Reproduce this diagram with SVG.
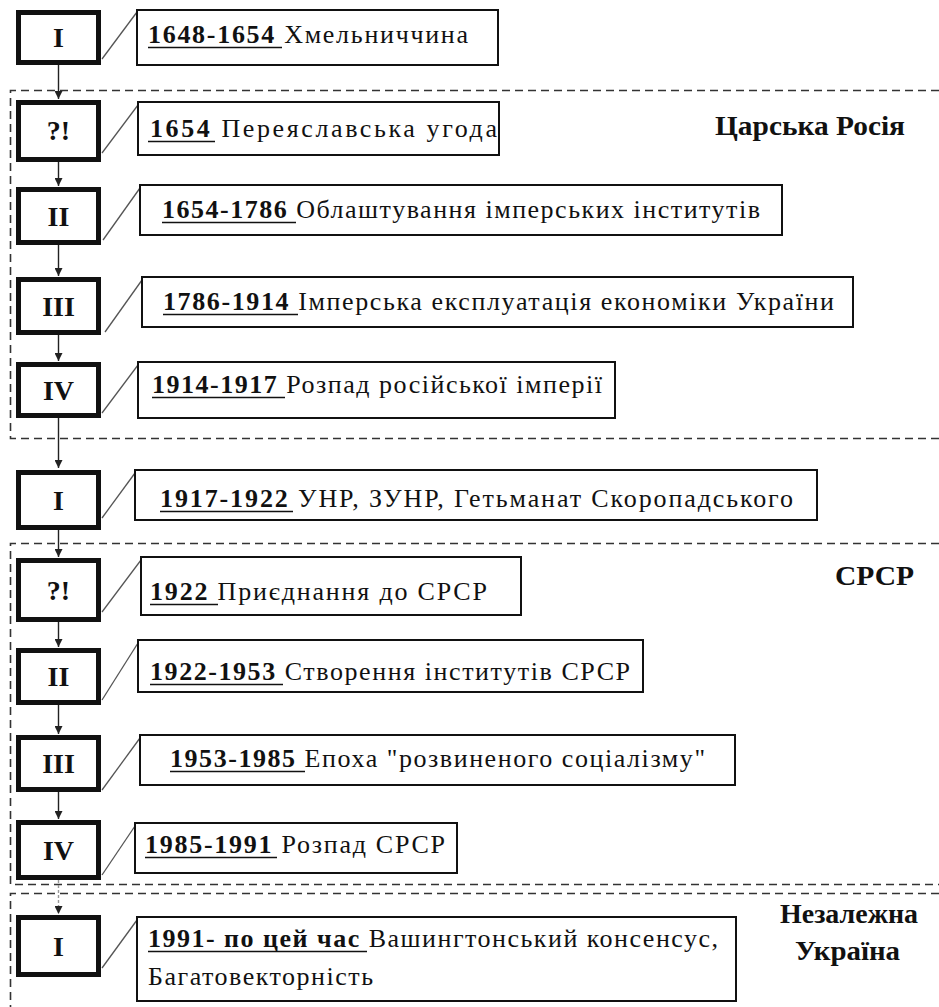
<svg xmlns="http://www.w3.org/2000/svg" width="939" height="1007" viewBox="0 0 939 1007">
<style>
.stage rect{fill:#fff;stroke:#111;stroke-width:5}
.stage text{font-family:"Liberation Serif","Times New Roman",serif;font-weight:bold;font-size:28px;fill:#111;text-anchor:middle}
.ev rect{fill:#fff;stroke:#111;stroke-width:2}
.ev text{font-family:"Liberation Serif","Times New Roman",serif;font-size:26px;fill:#111}
.ev .b{font-weight:bold}
.ev line{stroke:#111;stroke-width:1.4}
.region{fill:none;stroke:#333;stroke-width:1.6;stroke-dasharray:8 5}
.arrow{stroke:#222;stroke-width:1.4;fill:none;marker-end:url(#ah)}
.diag{stroke:#555;stroke-width:1.3;fill:none}
.era{font-family:"Liberation Serif","Times New Roman",serif;font-weight:bold;font-size:27px;fill:#111}
</style>
<defs>
<marker id="ah" viewBox="0 0 10 10" refX="10" refY="5" markerWidth="8" markerHeight="8" markerUnits="userSpaceOnUse" orient="auto">
<path d="M0,0 L10,5 L0,10 z" fill="#222"/>
</marker>
</defs>
<rect width="939" height="1007" fill="#fff"/>
<g id="regions">
<path class="region" d="M939,90.5 H10.5 V438.5 H939"/>
<path class="region" d="M939,543.5 H10.5 V884.5 H939"/>
<path class="region" d="M939,893.5 H10.5 V1007"/>
</g>
<g id="era-labels">
<text class="era" x="715" y="135" textLength="190" lengthAdjust="spacingAndGlyphs">Царська Росія</text>
<text class="era" x="835" y="585" textLength="79" lengthAdjust="spacingAndGlyphs">СРСР</text>
<text class="era" x="780" y="923" textLength="138" lengthAdjust="spacingAndGlyphs">Незалежна</text>
<text class="era" x="795" y="960" textLength="105" lengthAdjust="spacingAndGlyphs">Україна</text>
</g>
<g id="connectors">
<line class="arrow" x1="58.5" y1="65" x2="58.5" y2="99"/>
<line class="arrow" x1="58.5" y1="162" x2="58.5" y2="186"/>
<line class="arrow" x1="58.5" y1="245" x2="58.5" y2="276"/>
<line class="arrow" x1="58.5" y1="335" x2="58.5" y2="361"/>
<line class="arrow" x1="58.5" y1="418" x2="58.5" y2="468"/>
<line class="arrow" x1="58.5" y1="530" x2="58.5" y2="557"/>
<line class="arrow" x1="58.5" y1="622" x2="58.5" y2="647"/>
<line class="arrow" x1="58.5" y1="705" x2="58.5" y2="734"/>
<line class="arrow" x1="58.5" y1="792" x2="58.5" y2="819"/>
<line class="arrow" x1="58.5" y1="880" x2="58.5" y2="914" style="stroke:#999;stroke-dasharray:3 2"/>
<line class="diag" x1="102" y1="59" x2="137" y2="12"/>
<line class="diag" x1="102" y1="153" x2="138" y2="105"/>
<line class="diag" x1="103" y1="240" x2="140" y2="188"/>
<line class="diag" x1="105" y1="332" x2="142" y2="280"/>
<line class="diag" x1="102" y1="413" x2="138" y2="365"/>
<line class="diag" x1="102" y1="518" x2="135" y2="473"/>
<line class="diag" x1="102" y1="612" x2="141" y2="560"/>
<line class="diag" x1="102" y1="700" x2="138" y2="643"/>
<line class="diag" x1="102" y1="790" x2="140" y2="738"/>
<line class="diag" x1="102" y1="875" x2="135" y2="826"/>
<line class="diag" x1="102" y1="968" x2="137" y2="920"/>
</g>
<g id="stage-1" class="stage"><rect x="18.5" y="12.5" width="80" height="50"/><text x="58.5" y="47">I</text></g>
<g id="stage-2" class="stage"><rect x="18.5" y="102.5" width="80" height="57"/><text x="58.5" y="140">?!</text></g>
<g id="stage-3" class="stage"><rect x="18.5" y="189.5" width="80" height="53"/><text x="58.5" y="226">II</text></g>
<g id="stage-4" class="stage"><rect x="18.5" y="279.5" width="80" height="53"/><text x="58.5" y="316">III</text></g>
<g id="stage-5" class="stage"><rect x="18.5" y="364.5" width="80" height="51"/><text x="58.5" y="400">IV</text></g>
<g id="stage-6" class="stage"><rect x="18.5" y="472.5" width="80" height="55"/><text x="58.5" y="510">I</text></g>
<g id="stage-7" class="stage"><rect x="18.5" y="560.5" width="80" height="59"/><text x="58.5" y="600">?!</text></g>
<g id="stage-8" class="stage"><rect x="18.5" y="650.5" width="80" height="52"/><text x="58.5" y="686">II</text></g>
<g id="stage-9" class="stage"><rect x="18.5" y="737.5" width="80" height="52"/><text x="58.5" y="773">III</text></g>
<g id="stage-10" class="stage"><rect x="18.5" y="822.5" width="80" height="55"/><text x="58.5" y="860">IV</text></g>
<g id="stage-11" class="stage"><rect x="18.5" y="917.5" width="80" height="57"/><text x="58.5" y="956">I</text></g>
<g id="event-1" class="ev"><rect x="137" y="10" width="361" height="55"/><text x="148" y="43" textLength="320" lengthAdjust="spacing"><tspan class="b">1648-1654 </tspan>Хмельниччина</text><line x1="148" y1="47.5" x2="282" y2="47.5"/></g>
<g id="event-2" class="ev"><rect x="138" y="102" width="361" height="53"/><text x="150" y="137" textLength="347" lengthAdjust="spacing"><tspan class="b">1654 </tspan>Переяславська угода</text><line x1="148" y1="141.5" x2="215" y2="141.5"/></g>
<g id="event-3" class="ev"><rect x="140" y="185" width="642" height="50"/><text x="162" y="218" textLength="598" lengthAdjust="spacing"><tspan class="b">1654-1786 </tspan>Облаштування імперських інститутів</text><line x1="162" y1="222.5" x2="296" y2="222.5"/></g>
<g id="event-4" class="ev"><rect x="142" y="277" width="711" height="50"/><text x="163" y="310" textLength="671" lengthAdjust="spacing"><tspan class="b">1786-1914 </tspan>Імперська експлуатація економіки України</text><line x1="163" y1="314.5" x2="298" y2="314.5"/></g>
<g id="event-5" class="ev"><rect x="138" y="362" width="477" height="56"/><text x="152" y="393" textLength="450" lengthAdjust="spacing"><tspan class="b">1914-1917 </tspan>Розпад російської імперії</text><line x1="152" y1="397.5" x2="285" y2="397.5"/></g>
<g id="event-6" class="ev"><rect x="135" y="470" width="682" height="50"/><text x="160" y="507" textLength="633" lengthAdjust="spacing"><tspan class="b">1917-1922 </tspan>УНР, ЗУНР, Гетьманат Скоропадського</text><line x1="160" y1="511.5" x2="293" y2="511.5"/></g>
<g id="event-7" class="ev"><rect x="141" y="557" width="380" height="58"/><text x="150" y="600" textLength="337" lengthAdjust="spacing"><tspan class="b">1922 </tspan>Приєднання до СРСР</text><line x1="150" y1="604.5" x2="218" y2="604.5"/></g>
<g id="event-8" class="ev"><rect x="138" y="640" width="505" height="52"/><text x="150" y="680" textLength="480" lengthAdjust="spacing"><tspan class="b">1922-1953 </tspan>Створення інститутів СРСР</text><line x1="150" y1="684.5" x2="283" y2="684.5"/></g>
<g id="event-9" class="ev"><rect x="140" y="735" width="595" height="50"/><text x="170" y="767" textLength="535" lengthAdjust="spacing"><tspan class="b">1953-1985 </tspan>Епоха "розвиненого соціалізму"</text><line x1="170" y1="771.5" x2="305" y2="771.5"/></g>
<g id="event-10" class="ev"><rect x="135" y="823" width="322" height="50"/><text x="145" y="853" textLength="300" lengthAdjust="spacing"><tspan class="b">1985-1991 </tspan>Розпад СРСР</text><line x1="145" y1="857.5" x2="277" y2="857.5"/></g>
<g id="event-11" class="ev"><rect x="137" y="917" width="599" height="84"/><text x="148" y="947" textLength="570" lengthAdjust="spacing"><tspan class="b">1991- по цей час </tspan>Вашингтонський консенсус,</text><text x="148" y="985" textLength="225" lengthAdjust="spacing">Багатовекторність</text><line x1="148" y1="951.5" x2="367" y2="951.5"/></g>
</svg>
